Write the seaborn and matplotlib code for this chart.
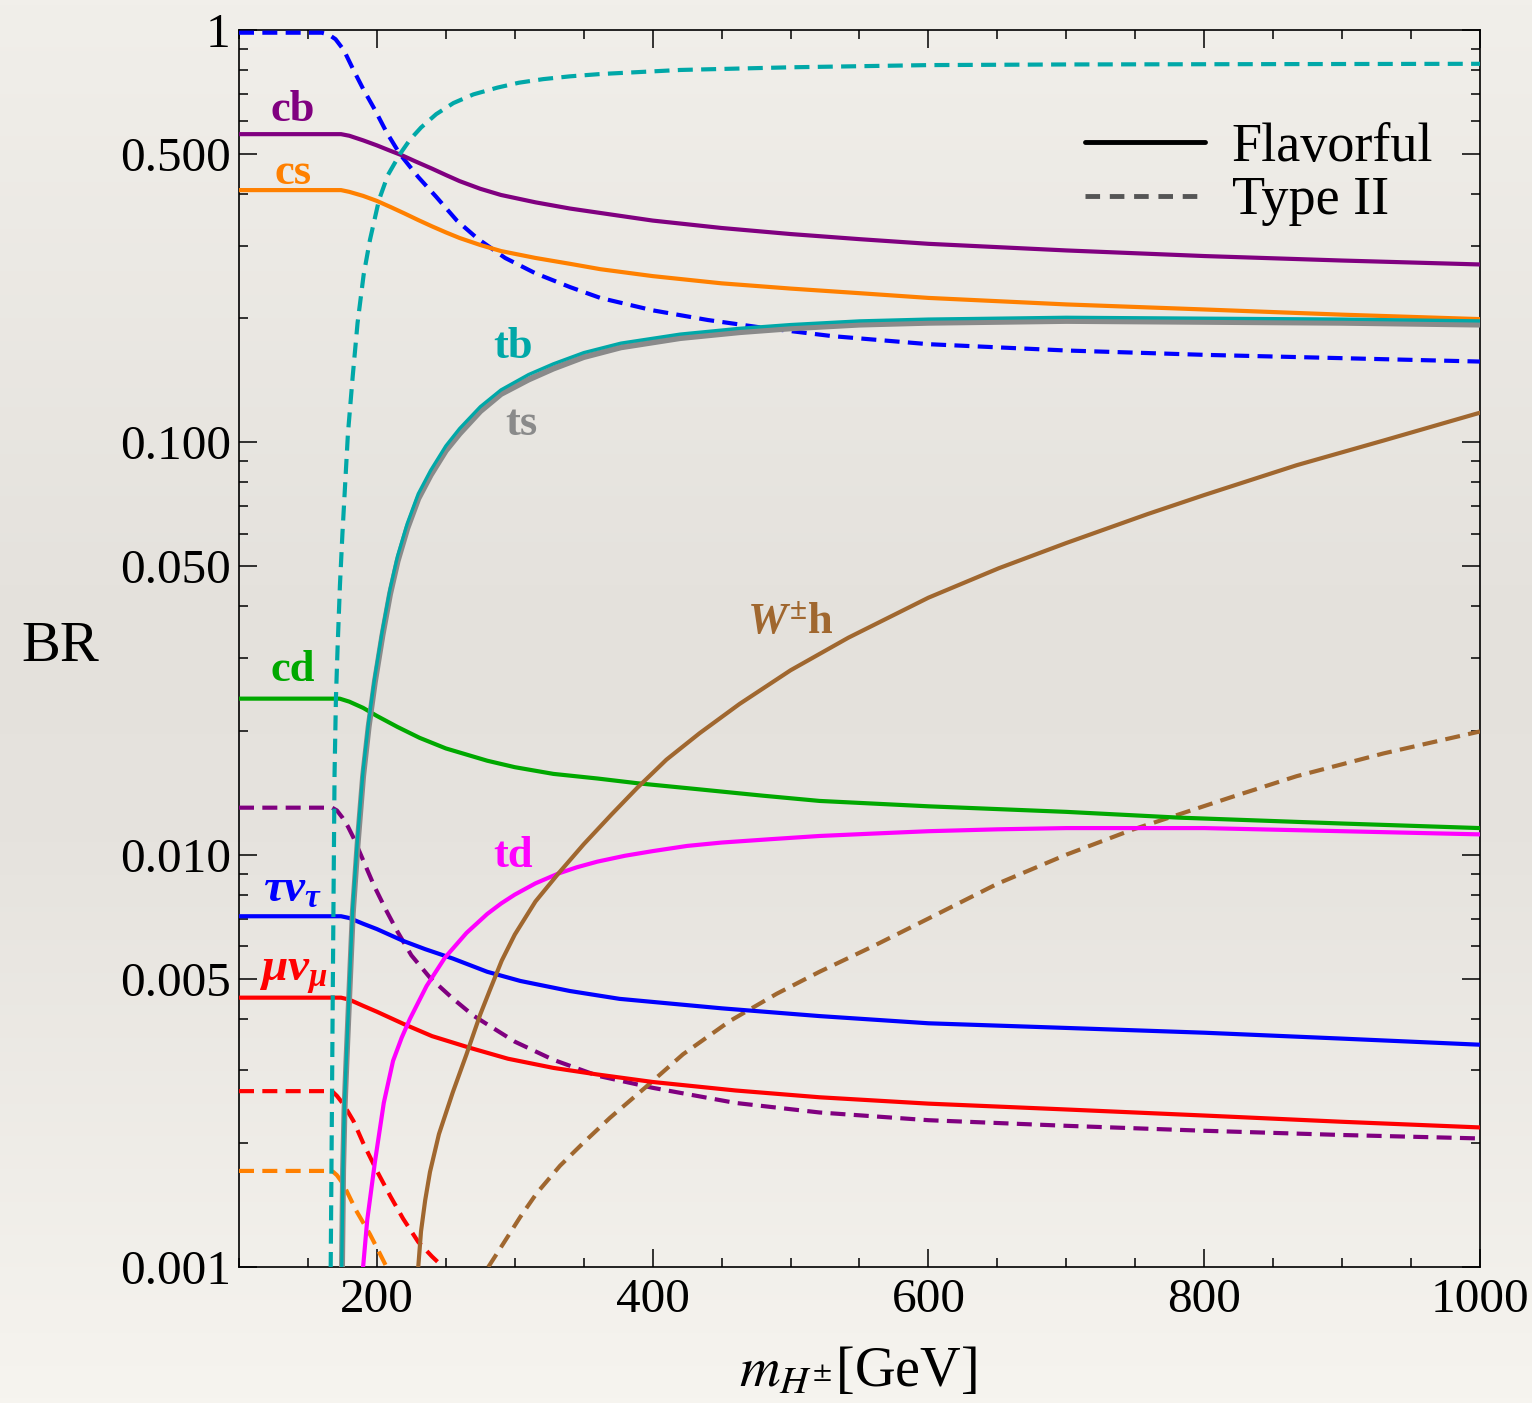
import numpy as np
import matplotlib
matplotlib.use("Agg")
import matplotlib.pyplot as plt
import seaborn as sns
from matplotlib.lines import Line2D
from matplotlib.ticker import FixedLocator, FixedFormatter, NullFormatter
from matplotlib.colors import to_rgb

# ---------------- data ----------------
# Flavorful (solid)
cb_x = [100, 174, 180, 190, 200, 210, 218, 228, 240, 250, 260, 275, 290, 315, 340, 362, 400, 450, 500, 550, 600, 700, 800, 900, 1000]
cb_y = [0.559, 0.559, 0.554, 0.54, 0.525, 0.509, 0.497, 0.48, 0.461, 0.445, 0.43, 0.412, 0.398, 0.382, 0.369, 0.36,
        0.345, 0.331, 0.32, 0.311, 0.303, 0.292, 0.283, 0.276, 0.27]

cs_x = [100, 174, 180, 190, 200, 210, 220, 230, 240, 250, 260, 275, 290, 315, 340, 362, 400, 450, 500, 550, 600, 700, 800, 900, 1000]
cs_y = [0.409, 0.409, 0.405, 0.396, 0.385, 0.372, 0.359, 0.346, 0.334, 0.323, 0.313, 0.301, 0.291, 0.28, 0.271, 0.263,
        0.253, 0.243, 0.236, 0.23, 0.224, 0.216, 0.21, 0.204, 0.199]

tb_x = [174.5, 175.5, 176.5, 178, 180, 182.5, 186, 190, 194, 198.5, 204, 209.5, 215, 222, 230, 239, 250, 260, 275, 290,
        310, 328, 350, 377, 420, 463, 500, 550, 600, 700, 800, 900, 1000]
tb_y = [0.001, 0.0018, 0.0025, 0.0033, 0.0048, 0.0075, 0.011, 0.016, 0.021, 0.027, 0.035, 0.044, 0.053, 0.0635, 0.075,
        0.0855, 0.098, 0.108, 0.122, 0.134, 0.146, 0.155, 0.165, 0.174, 0.183, 0.189, 0.193, 0.197, 0.199, 0.201, 0.200,
        0.199, 0.197]

ts_x = [174.7, 175.5, 176.5, 178, 180, 182.5, 186, 190, 194, 198.5, 204, 209.5, 215, 222, 230, 239, 250, 260, 275, 290,
        310, 328, 350, 377, 420, 463, 500, 550, 600, 700, 800, 900, 1000]
ts_y = [0.001, 0.00172, 0.0024, 0.0032, 0.0046, 0.0072, 0.0106, 0.0155, 0.0204, 0.0262, 0.034, 0.0428, 0.0515, 0.0618,
        0.073, 0.0833, 0.0955, 0.105, 0.119, 0.131, 0.142, 0.151, 0.161, 0.170, 0.179, 0.185, 0.189, 0.193, 0.195, 0.197,
        0.196, 0.195, 0.193]

td_x = [190, 193, 198.6, 205, 211.7, 218, 224, 236, 249.4, 265, 280, 290, 300, 315, 331.6, 345, 360, 380, 400, 425, 450,
        485, 521, 560, 600, 650, 700, 800, 900, 1000]
td_y = [0.001, 0.0013, 0.0018, 0.0025, 0.00316, 0.0036, 0.004, 0.0048, 0.00563, 0.00646, 0.00718, 0.00761, 0.008,
        0.00852, 0.009, 0.00932, 0.00962, 0.00994, 0.0102, 0.0105, 0.0107, 0.0109, 0.0111, 0.01125, 0.0114, 0.01152,
        0.0116, 0.0116, 0.0114, 0.0112]

wh_x = [230, 232, 235, 238.5, 245, 255, 265, 267.5, 275, 282, 290.5, 300, 315, 331.6, 350, 370, 388.6, 410, 434, 463,
        500, 542, 600, 651, 700, 759, 800, 867, 930, 1000]
wh_y = [0.001, 0.00122, 0.00145, 0.0017, 0.0021, 0.00265, 0.00328, 0.00347, 0.0041, 0.0047, 0.00553, 0.0064, 0.0077,
        0.009, 0.0106, 0.0125, 0.0145, 0.017, 0.0197, 0.0232, 0.028, 0.0336, 0.042, 0.0495, 0.057, 0.067, 0.0745,
        0.088, 0.101, 0.118]

cd_x = [100, 173, 180, 190, 200, 215, 231, 250, 280, 300, 328, 360, 389, 434, 480, 521, 600, 700, 781, 900, 1000]
cd_y = [0.0239, 0.0239, 0.0235, 0.0227, 0.0217, 0.0204, 0.0192, 0.0181, 0.0169, 0.0163, 0.0157, 0.0153, 0.0149, 0.0144,
        0.0139, 0.0135, 0.0131, 0.0127, 0.0123, 0.0119, 0.0116]

taunu_x = [100, 174, 180, 190, 200, 219, 235, 255, 280, 304, 340, 376, 450, 521, 600, 700, 800, 900, 1000]
taunu_y = [0.00709, 0.00709, 0.00702, 0.0068, 0.0066, 0.00618, 0.0059, 0.0056, 0.0052, 0.00494, 0.00467, 0.00447,
           0.00424, 0.00406, 0.0039, 0.0038, 0.0037, 0.00358, 0.00346]

munu_x = [100, 174, 180, 190, 200, 219, 240, 267.5, 295, 328, 360, 400, 460, 521, 600, 700, 800, 900, 1000]
munu_y = [0.0045, 0.0045, 0.00445, 0.0043, 0.00416, 0.00389, 0.00363, 0.0034, 0.0032, 0.00304, 0.00293, 0.00281,
          0.00268, 0.00258, 0.00249, 0.00241, 0.00233, 0.00225, 0.00218]

# Type II (dashed)
t2_blue_x = [100, 160, 165, 170, 176, 183, 190, 198.6, 207, 216.7, 230, 243, 258, 273, 293, 315, 340, 362, 400, 440,
             478, 530, 600, 700, 800, 900, 1000]
t2_blue_y = [0.985, 0.985, 0.975, 0.95, 0.894, 0.8, 0.72, 0.64, 0.565, 0.50, 0.44, 0.394, 0.345, 0.312, 0.28, 0.257,
             0.238, 0.224, 0.209, 0.198, 0.19, 0.181, 0.173, 0.167, 0.163, 0.16, 0.157]

t2_tb_x = [166.5, 167.2, 168, 168.7, 169.3, 170.3, 171.5, 173.2, 175, 176.6, 179, 182.5, 186, 190.4, 195, 201.5, 208,
           216.7, 224, 232, 243, 255.5, 270, 287.5, 303, 320.5, 340, 362, 420, 500, 600, 700, 800, 900, 1000]
t2_tb_y = [0.001, 0.002, 0.0046, 0.009, 0.0157, 0.024, 0.0318, 0.045, 0.06, 0.075, 0.105, 0.145, 0.195, 0.255, 0.31,
           0.387, 0.445, 0.50, 0.542, 0.58, 0.625, 0.665, 0.698, 0.725, 0.745, 0.76, 0.772, 0.782, 0.80, 0.812, 0.822,
           0.825, 0.826, 0.827, 0.828]

t2_purple_x = [100, 167.5, 171, 175, 179, 183, 190, 198, 207, 215, 225, 238.5, 255, 270, 300, 328, 360, 400, 460,
               521, 600, 700, 800, 900, 1000]
t2_purple_y = [0.013, 0.013, 0.0128, 0.0123, 0.0117, 0.011, 0.0097, 0.0084, 0.0073, 0.0065, 0.0057, 0.00503, 0.00448,
               0.00407, 0.00352, 0.00318, 0.00291, 0.00272, 0.0025, 0.00237, 0.00227, 0.0022, 0.00214, 0.00209, 0.00205]

t2_red_x = [100, 167.5, 171, 175, 179, 183, 190, 200, 210, 219, 230, 240, 248]
t2_red_y = [0.00267, 0.00267, 0.0026, 0.0025, 0.00238, 0.00226, 0.002, 0.00171, 0.00148, 0.00131, 0.00115, 0.00106, 0.001]

t2_orange_x = [100, 167.5, 171, 175, 178, 185, 195, 202, 207]
t2_orange_y = [0.00171, 0.00171, 0.00167, 0.0016, 0.00153, 0.00137, 0.0012, 0.00108, 0.001]

t2_brown_x = [280.8, 291.7, 303.8, 315.9, 332.8, 349.7, 369, 394.4, 422, 456, 490, 521, 560, 600, 650, 700, 748, 781,
              820, 867, 930, 1000]
t2_brown_y = [0.001, 0.00114, 0.00132, 0.00151, 0.00176, 0.002, 0.0023, 0.00272, 0.00328, 0.00395, 0.0046, 0.0052,
              0.006, 0.007, 0.0085, 0.0100, 0.0115, 0.0125, 0.0138, 0.0155, 0.0176, 0.0199]

y_major = [0.001, 0.005, 0.01, 0.05, 0.1, 0.5, 1]
y_major_labels = ["0.001", "0.005", "0.010", "0.050", "0.100", "0.500", "1"]
x_major = [200, 400, 600, 800, 1000]
x_major_labels = ["200", "400", "600", "800", "1000"]

# ---------------- styling ----------------
PURPLE = "#800080"
ORANGE = "#ff8000"
CYAN = "#00a8a8"
GRAY = "#8a8a8a"
MAGENTA = "#ff00ff"
BROWN = "#a0672f"
GREEN = "#00a800"
BLUE = "#0000ff"
RED = "#ff0000"

sns.set_theme(style="ticks")
plt.rcParams["font.family"] = ["Liberation Serif", "DejaVu Serif"]
plt.rcParams["mathtext.fontset"] = "stix"
plt.rcParams["mathtext.rm"] = "Liberation Serif:bold"
plt.rcParams["mathtext.it"] = "Liberation Serif:italic:bold"
plt.rcParams["mathtext.bf"] = "Liberation Serif:bold"
for k in ("text.color", "axes.labelcolor", "xtick.color", "ytick.color"):
    plt.rcParams[k] = "black"

W, H = 1532, 1403
fig = plt.figure(figsize=(W / 100, H / 100), dpi=100)
fig.patch.set_facecolor("#efece6")

# paper-like background gradient
bg = fig.add_axes([0, 0, 1, 1], zorder=-10)
stops_pos = [0.0, 0.45, 0.6, 1.0]
stops_col = [to_rgb("#f1efea"), to_rgb("#e4e1dc"), to_rgb("#e6e3de"), to_rgb("#f6f4ef")]
rows = np.linspace(0, 1, 300)
grad = np.stack([np.interp(rows, stops_pos, [c[i] for c in stops_col]) for i in range(3)], axis=-1)
bg.imshow(grad[:, None, :], aspect="auto", extent=[0, 1, 0, 1], origin="upper")
bg.axis("off")

L, R, T, B = 239, 1480, 30, 1267
ax = fig.add_axes([L / W, 1 - B / H, (R - L) / W, (B - T) / H])
ax.set_facecolor("none")
ax.set_yscale("log")

LW = 3.0
DASH = (3.6, 2.0)

def solid(x, y, c, lw=LW, z=3):
    sns.lineplot(x=x, y=y, color=c, lw=lw, ax=ax, zorder=z, legend=False, estimator=None, sort=False)

def dashed(x, y, c, lw=LW, z=3):
    sns.lineplot(x=x, y=y, color=c, lw=lw, ax=ax, zorder=z, legend=False, estimator=None, sort=False)
    ax.lines[-1].set_dashes(DASH)

dashed(t2_blue_x, t2_blue_y, BLUE)
dashed(t2_purple_x, t2_purple_y, PURPLE)
dashed(t2_red_x, t2_red_y, RED)
dashed(t2_orange_x, t2_orange_y, ORANGE)
dashed(t2_brown_x, t2_brown_y, BROWN)
solid(cb_x, cb_y, PURPLE)
solid(cs_x, cs_y, ORANGE)
solid(cd_x, cd_y, GREEN)
solid(taunu_x, taunu_y, BLUE)
solid(munu_x, munu_y, RED)
solid(td_x, td_y, MAGENTA)
solid(wh_x, wh_y, BROWN)
solid(ts_x, ts_y, GRAY, lw=4.3, z=4)
solid(tb_x, tb_y, CYAN, lw=2.4, z=5)
dashed(t2_tb_x, t2_tb_y, CYAN, z=4)

ax.set_xlim(100, 1000)
ax.set_ylim(0.001, 1)

# ticks
ax.xaxis.set_major_locator(FixedLocator(x_major))
ax.xaxis.set_major_formatter(FixedFormatter(x_major_labels))
ax.xaxis.set_minor_locator(FixedLocator([v for v in range(100, 1001, 50) if v % 200 != 0]))
minor_y = [m * 10.0 ** e for e in (-3, -2, -1) for m in (2, 3, 4, 6, 7, 8, 9)]
ax.yaxis.set_major_locator(FixedLocator(y_major))
ax.yaxis.set_major_formatter(FixedFormatter(y_major_labels))
ax.yaxis.set_minor_locator(FixedLocator(minor_y))
ax.yaxis.set_minor_formatter(NullFormatter())
ax.tick_params(which="both", direction="in", top=True, right=True, color="black", width=1.1)
ax.tick_params(which="major", length=13, labelsize=35.5, pad=6, labelcolor="black")
ax.tick_params(which="minor", length=6.5)
ax.tick_params(axis="x", which="major", pad=8)
for s in ax.spines.values():
    s.set_color("black")
    s.set_linewidth(1.2)
ax.set_xlabel("")
ax.set_ylabel("")

# axis titles
fig.text(60 / W, 1 - 647 / H, "BR", ha="center", va="center", fontsize=42, color="black")
fig.text(858 / W, 1 - 1372 / H, r"$m_{H^{\pm}}$[GeV]", ha="center", va="center", fontsize=40.5,
         color="black", math_fontfamily="stix")

# curve labels
lab = dict(ha="center", va="center", fontsize=32, fontweight="bold")
ax.text(139, 0.64, "cb", color=PURPLE, **lab)
ax.text(139, 0.45, "cs", color=ORANGE, **lab)
ax.text(299, 0.17, "tb", color=CYAN, **lab)
ax.text(305, 0.111, "ts", color=GRAY, **lab)
ax.text(500, 0.0365, r"$W^{\pm}\mathrm{h}$", color=BROWN, math_fontfamily="custom", **lab)
ax.text(139, 0.028, "cd", color=GREEN, **lab)
ax.text(299, 0.0099, "td", color=MAGENTA, **lab)
ax.text(139, 0.0082, r"$\tau\nu_\tau$", color=BLUE, ha="center", va="center", fontsize=34, math_fontfamily="custom")
ax.text(139, 0.0051, r"$\mu\nu_\mu$", color=RED, ha="center", va="center", fontsize=34, math_fontfamily="custom")

# legend
handles = [Line2D([], [], color="black", lw=3.5),
           Line2D([], [], color="#555555", lw=3.5, dashes=(3.0, 2.0))]
ax.legend(handles, ["Flavorful", "Type II"], loc="upper left", bbox_to_anchor=(0.682, 0.925),
          frameon=False, fontsize=39, handlelength=2.2, handletextpad=0.5, borderpad=0,
          borderaxespad=0, labelspacing=0.05, labelcolor="black")

fig.savefig("out.png", dpi=100, facecolor=fig.get_facecolor())
